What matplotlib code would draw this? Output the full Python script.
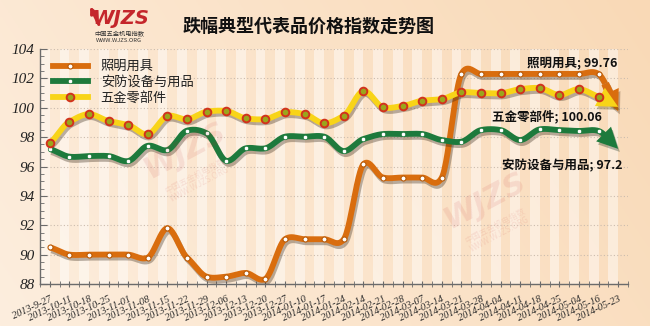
import numpy as np
import matplotlib
matplotlib.use("Agg")
import matplotlib.pyplot as plt
import matplotlib.patheffects as pe
from matplotlib.lines import Line2D
from matplotlib.patches import FancyArrowPatch

plt.rcParams['font.family'] = ['Noto Sans CJK SC', 'DejaVu Sans']

dates = ['2013-9-27', '2013-10-11', '2013-10-18', '2013-10-25', '2013-11-01',
         '2013-11-08', '2013-11-15', '2013-11-22', '2013-11-29', '2013-12-06',
         '2013-12-13', '2013-12-20', '2013-12-27', '2014-01-10', '2014-01-17',
         '2014-01-24', '2014-02-14', '2014-02-21', '2014-02-28', '2014-03-07',
         '2014-03-14', '2014-03-21', '2014-03-28', '2014-04-04', '2014-04-11',
         '2014-04-18', '2014-04-25', '2014-05-04', '2014-05-16', '2014-05-23']

lighting = [90.5, 90.0, 90.0, 90.0, 90.0, 89.8, 91.8, 89.8, 88.5, 88.5,
            88.75, 88.35, 91.05, 91.05, 91.05, 91.05, 96.15, 95.25, 95.25, 95.25,
            95.25, 102.3, 102.3, 102.3, 102.3, 102.3, 102.3, 102.3, 102.3, 99.76]

security = [97.19, 96.67, 96.71, 96.71, 96.37, 97.41, 97.12, 98.44, 98.26, 96.39,
            97.24, 97.24, 98.03, 98.03, 98.03, 97.05, 97.87, 98.21, 98.21, 98.21,
            97.80, 97.69, 98.48, 98.48, 97.80, 98.53, 98.48, 98.42, 98.42, 97.2]

hardware = [97.6, 99.05, 99.57, 99.1, 98.82, 98.19, 99.44, 99.21, 99.73, 99.78,
            99.28, 99.23, 99.69, 99.57, 98.94, 99.46, 101.14, 100.03, 100.12, 100.48,
            100.59, 101.05, 101.0, 100.98, 101.27, 101.34, 100.87, 101.27, 100.75, 100.06]

names = ['照明用具', '安防设备与用品', '五金零部件']

W, H = 650, 326
fig = plt.figure(figsize=(W / 100, H / 100), dpi=100)

# peach gradient backdrop
bg = fig.add_axes([0, 0, 1, 1], zorder=-10)
gx = np.linspace(0, 1, 256)[None, :]
gy = np.linspace(0, 1, 128)[:, None]
c_left = np.array([253, 238, 222]) / 255
c_right = np.array([249, 217, 182]) / 255
t = np.clip(0.75 * gx + 0.25 * (1 - gy), 0, 1)[..., None]
img = c_left * (1 - t) + c_right * t
bg.imshow(img, aspect='auto', extent=[0, 1, 0, 1], origin='upper')
bg.set_axis_off()

ax = fig.add_axes([40 / W, 1 - 284 / H, 588 / W, 235 / H])
ax.set_facecolor('none')
n = len(dates)
ax.set_xlim(-0.46, 29.47)
ax.set_ylim(88, 104)

# vertical stripes
for i in range(n + 1):
    ax.axvspan(i - 0.5, i, color='white', alpha=0.45, lw=0, zorder=0)

ax.set_yticks(np.arange(88, 105, 2))
ax.set_yticks(np.arange(88, 104.01, 0.5), minor=True)
ax.grid(axis='y', color='#cbbcae', lw=0.8, linestyle=(0, (1, 2)), zorder=1)
ax.set_axisbelow(True)

for s in ['top', 'right']:
    ax.spines[s].set_visible(False)
for s in ['left', 'bottom']:
    ax.spines[s].set_color('#6b6b6b')
    ax.spines[s].set_linewidth(1.0)

ax.tick_params(axis='y', which='major', direction='in', length=5, color='#6b6b6b',
               labelsize=11, pad=4)
ax.tick_params(axis='y', which='minor', direction='in', length=3, color='#6b6b6b')
for lbl in ax.get_yticklabels():
    lbl.set_fontfamily('Liberation Serif')
    lbl.set_fontstyle('italic')
    lbl.set_color('#222222')

ax.set_xticks(range(n))
ax.set_xticks(np.arange(-0.5, n, 1), minor=True)
ax.set_xticklabels(dates, rotation=25, ha='right', va='top', rotation_mode='anchor',
                   fontsize=7.4, family='Liberation Serif', style='italic', color='#2a2a2a')
ax.tick_params(axis='x', which='major', direction='inout', length=5, color='#6b6b6b', pad=5)
ax.tick_params(axis='x', which='minor', direction='inout', length=4, color='#6b6b6b')


def smooth(vals, steps=24, tension=0.7):
    p = np.asarray(vals, float)
    m = np.zeros_like(p)
    m[1:-1] = tension * (p[2:] - p[:-2]) / 2
    m[0] = tension * (p[1] - p[0])
    m[-1] = tension * (p[-1] - p[-2])
    xs, ys = [], []
    for i in range(len(p) - 1):
        s = np.linspace(0, 1, steps, endpoint=False)
        h00 = 2 * s**3 - 3 * s**2 + 1
        h10 = s**3 - 2 * s**2 + s
        h01 = -2 * s**3 + 3 * s**2
        h11 = s**3 - s**2
        xs.append(i + s)
        ys.append(h00 * p[i] + h10 * m[i] + h01 * p[i + 1] + h11 * m[i + 1])
    xs.append([len(p) - 1])
    ys.append([p[-1]])
    return np.concatenate(xs), np.concatenate(ys)


shadow = [pe.SimpleLineShadow(offset=(1.2, -2.2), shadow_color='#3a2a1a', alpha=0.35),
          pe.Normal()]

series = [
    (lighting, '#d96d0e', dict(marker='o', ms=3.6, mfc='white', mec='#b85a08', mew=0.8), 3),
    (security, '#1d7a3c', dict(marker='o', ms=3.2, mfc='white', mec='#1d7a3c', mew=0.5), 4),
    (hardware, '#f8d418', dict(marker='o', ms=5.5, mfc='#9ba51c', mec='#d2321c', mew=1.4), 5),
]

lw = 4.2
cut = 28.35
for vals, col, mk, z in series:
    xs, ys = smooth(vals)
    keep = xs <= cut
    ax.plot(xs[keep], ys[keep], color=col, lw=lw, solid_capstyle='butt',
            zorder=z, path_effects=shadow)
    x0, y0 = xs[keep][-1], ys[keep][-1]
    arr = FancyArrowPatch((x0, y0), (n - 1, vals[-1]),
                          arrowstyle='simple,head_length=0.75,head_width=0.75,tail_width=0.29',
                          mutation_scale=20, color=col, lw=0, shrinkA=0, shrinkB=0,
                          zorder=z,
                          path_effects=[pe.SimplePatchShadow(offset=(1.2, -2.2), alpha=0.3),
                                        pe.Normal()])
    ax.add_patch(arr)
    ax.plot(range(n - 1), vals[:-1], ls='none', zorder=z + 0.5, **mk)

# end labels
lab_kw = dict(fontsize=9, fontweight='bold', color='#111111', zorder=10)
fig.text(617 / W, 1 - 63 / H, f'{names[0]}; {lighting[-1]:.2f}', ha='right', va='center', **lab_kw)
fig.text(602 / W, 1 - 117 / H, f'{names[2]}; {hardware[-1]:.2f}', ha='right', va='center', **lab_kw)
fig.text(623 / W, 1 - 166 / H, f'{names[1]}; {security[-1]:.1f}', ha='right', va='center', **lab_kw)

# legend
handles = [Line2D([], [], color=c, lw=lw, **mk) for _, c, mk, _ in series]
leg = fig.legend(handles, names, loc='upper left', bbox_to_anchor=(44 / W, 1 - 51 / H),
                 frameon=False, fontsize=9.5, handlelength=2.6, handletextpad=1.0,
                 labelspacing=0.2, borderpad=0.2)
for txt in leg.get_texts():
    txt.set_color('#222222')

# title
fig.text(309 / W, 1 - 26 / H, '跌幅典型代表品价格指数走势图', ha='center', va='center',
         fontsize=13, fontweight='bold', color='#111111')

# brand mark
red = '#c4262b'
fig.text(121 / W, 1 - 19 / H, 'WJZS', ha='center', va='center', fontsize=14,
         fontweight='bold', style='italic', color=red, family='DejaVu Sans')
fig.patches.append(FancyArrowPatch((100 / W, 1 - 27 / H), (89 / W, 1 - 4 / H),
                                   transform=fig.transFigure, arrowstyle='-|>',
                                   mutation_scale=9, color=red, lw=2.2))
fig.text(119 / W, 1 - 34 / H, '中国五金机电指数', ha='center', va='center', fontsize=4.5,
         color='#333333')
fig.text(119 / W, 1 - 41 / H, 'WWW.WJZS.ORG', ha='center', va='center', fontsize=4.2,
         color='#333333')

# faint watermarks
for cx, cy in [(185, 150), (485, 200)]:
    fig.text(cx / W, 1 - cy / H, 'WJZS', ha='center', va='center', fontsize=22,
             fontweight='bold', style='italic', color=red, alpha=0.10, rotation=28,
             family='DejaVu Sans', zorder=0.5)
    fig.text((cx + 12) / W, 1 - (cy + 30) / H, '中国五金机电指数\nWWW.WJZS.ORG',
             ha='center', va='center', fontsize=6, color=red, alpha=0.10, rotation=28,
             zorder=0.5, linespacing=1.1)

fig.savefig('out.png', dpi=100)
